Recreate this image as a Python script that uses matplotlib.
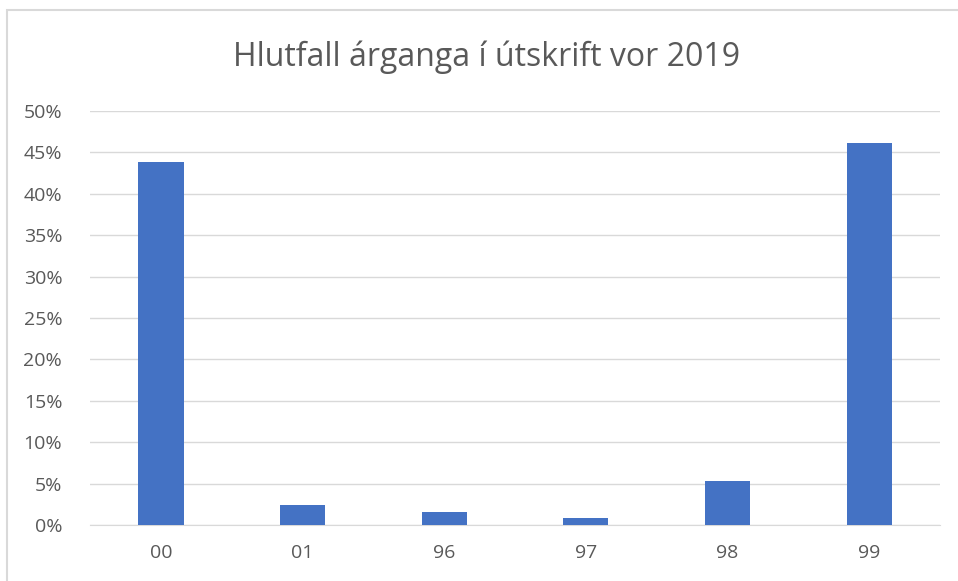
import matplotlib.pyplot as plt
from matplotlib.patches import Rectangle
from matplotlib.ticker import PercentFormatter, MultipleLocator

# --------------------------
# Data
# --------------------------
categories = ["00", "01", "96", "97", "98", "99"]
shares = [0.438, 0.024, 0.016, 0.008, 0.053, 0.461]

TITLE = "Hlutfall árganga í útskrift vor 2019"
BAR_COLOR = "#4472C4"
TEXT_COLOR = "#595959"
GRID_COLOR = "#D9D9D9"

plt.rcParams["font.family"] = ["Open Sans", "DejaVu Sans"]

fig = plt.figure(figsize=(9.58, 5.81), dpi=100)
ax = fig.add_axes([90 / 958, 1 - 525 / 581, 850 / 958, 414 / 581])

x = range(len(categories))
ax.bar(x, shares, width=0.32, color=BAR_COLOR, zorder=3)

ax.set_xlim(-0.5, len(categories) - 0.5)
ax.set_ylim(0, 0.5)
ax.yaxis.set_major_locator(MultipleLocator(0.05))
ax.yaxis.set_major_formatter(PercentFormatter(1.0, decimals=0))
ax.set_xticks(list(x))
ax.set_xticklabels(categories)

ax.grid(axis="y", color=GRID_COLOR, linewidth=1, zorder=0)
for side in ["top", "right", "left"]:
    ax.spines[side].set_visible(False)
ax.spines["bottom"].set_color(GRID_COLOR)
ax.tick_params(axis="both", length=0, labelsize=14, colors=TEXT_COLOR)
ax.tick_params(axis="x", pad=14)
ax.tick_params(axis="y", pad=20)

fig.text(0.5 + 8 / 958, 1 - 57 / 581, TITLE, ha="center", va="center",
         fontsize=23, color=TEXT_COLOR)

# outer chart frame
fig.patches.append(Rectangle((7 / 958, -0.05), 1.0, 1 - 10 / 581 + 0.05,
                             transform=fig.transFigure, fill=False,
                             edgecolor=GRID_COLOR, linewidth=1.5))

fig.savefig("out.png", dpi=100)
